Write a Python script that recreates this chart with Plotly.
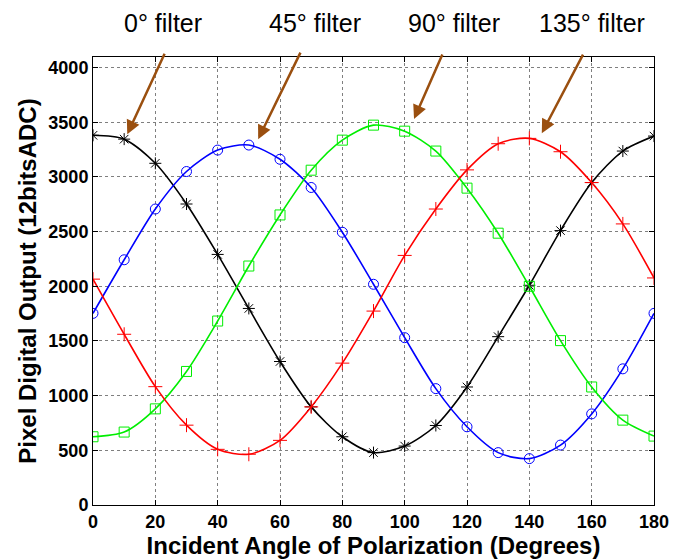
import plotly.graph_objects as go

angles = [0, 10, 20, 30, 40, 50, 60, 70, 80, 90, 100, 110, 120, 130, 140, 150, 160, 170, 180]

filter_0 = [3380, 3345, 3124, 2752, 2291, 1797, 1312, 897, 624, 479, 539, 727, 1079, 1539, 2009, 2509, 2948, 3236, 3373]
filter_45 = [1752, 2242, 2706, 3049, 3245, 3291, 3161, 2903, 2494, 2018, 1530, 1064, 715, 479, 424, 548, 833, 1245, 1752]
filter_90 = [624, 667, 879, 1221, 1682, 2185, 2652, 3061, 3336, 3473, 3418, 3236, 2897, 2485, 2000, 1503, 1079, 776, 630]
filter_135 = [2065, 1561, 1082, 730, 509, 464, 591, 897, 1297, 1773, 2282, 2706, 3064, 3303, 3352, 3230, 2948, 2570, 2076]

labels = ["0° filter", "45° filter", "90° filter", "135° filter"]
# where each arrow points (angle, value)
arrow_x = [11, 53, 103, 144]
arrow_y = [3390, 3345, 3530, 3400]

# page has an 8px body margin, so the figure is shifted; sizes below account for it
off = 8
pl, pr, pt, pb = 93, 662, 57, 506  # plot area in window pixels

series = [
    (filter_0, "black", "asterisk-open"),
    (filter_45, "blue", "circle-open"),
    (filter_90, "#00ee00", "square-open"),
    (filter_135, "red", "cross-thin-open"),
]

fig = go.Figure()
for vals, col, sym in series:
    fig.add_trace(go.Scatter(
        x=angles, y=vals, mode="lines+markers",
        line=dict(color=col, width=1.6, shape="spline", smoothing=0.8),
        marker=dict(symbol=sym, size=10, color=col, line=dict(color=col, width=1)),
        showlegend=False,
    ))

text_px = [164, 318, 459, 599]
arrow_ax = [38, 43, 29, 42]
arrow_ay = [-82, -88, -66, -80]
for i, lab in enumerate(labels):
    fig.add_annotation(
        x=arrow_x[i], y=arrow_y[i], xref="x", yref="y",
        ax=arrow_ax[i], ay=arrow_ay[i],
        showarrow=True, arrowhead=2, arrowsize=1.1, arrowwidth=2.5, arrowcolor="#9a4f0f",
        text="",
    )
    fig.add_annotation(
        x=(text_px[i] - pl) / (pr - pl), y=(pb - 23) / (pb - pt),
        xref="paper", yref="paper", xanchor="center", yanchor="middle",
        text=lab, showarrow=False, font=dict(size=25, color="black"),
    )

axis_style = dict(
    showline=True, linecolor="black", linewidth=1, mirror="ticks",
    ticks="inside", ticklen=5, tickcolor="black",
    showgrid=True, gridcolor="#7f7f7f", griddash="dot", gridwidth=1,
    zeroline=False,
    tickfont=dict(size=18, color="black", weight="bold"),
)

fig.update_xaxes(range=[0, 180], dtick=20, **axis_style,
                 title=dict(text="Incident Angle of Polarization (Degrees)",
                            font=dict(size=24, color="black", weight="bold"), standoff=0))
fig.update_yaxes(range=[0, 4096], tickvals=list(range(0, 4001, 500)), **axis_style,
                 title=dict(text="Pixel Digital Output (12bitsADC)",
                            font=dict(size=24, color="black", weight="bold"), standoff=4))

fig.update_layout(
    width=681 - off, height=560 - off,
    margin=dict(l=pl - off, r=681 - pr, t=pt - off, b=560 - pb),
    paper_bgcolor="white", plot_bgcolor="white",
    font=dict(family="Liberation Sans, Arial, sans-serif", color="black"),
)

fig.write_html("out.html")
